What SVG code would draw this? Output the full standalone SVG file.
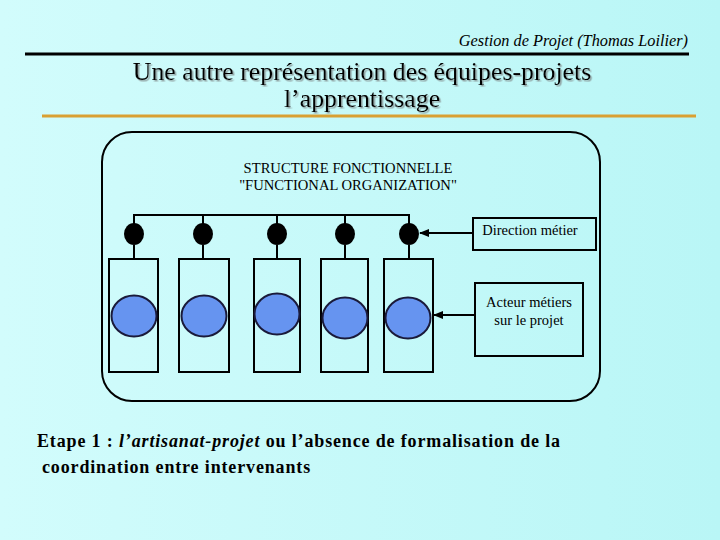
<svg xmlns="http://www.w3.org/2000/svg" width="720" height="540" viewBox="0 0 720 540">
<defs>
<linearGradient id="bg" x1="0" y1="0" x2="1" y2="0">
<stop offset="0" stop-color="#d2fcfc"/>
<stop offset="1" stop-color="#b9f6f6"/>
</linearGradient>
<filter id="shadow" x="-5%" y="-20%" width="110%" height="140%">
<feDropShadow dx="1.5" dy="1.5" stdDeviation="0.3" flood-color="#8a9a9a" flood-opacity="0.9"/>
</filter>
<marker id="arr" markerWidth="10" markerHeight="8" refX="9" refY="4" orient="auto" markerUnits="userSpaceOnUse">
<path d="M0,0 L10,4 L0,8 Z" fill="#000"/>
</marker>
<style>
.serif{font-family:"Liberation Serif","Times New Roman",serif;fill:#000}
.box{fill:none;stroke:#000;stroke-width:2}
.dot{fill:#000}
.blue{fill:#6694f0;stroke:#1a1a3a;stroke-width:2}
.line{stroke:#000;stroke-width:2;fill:none}
.cap{font-size:18px;font-weight:bold;letter-spacing:0.85px}
.lbl{font-size:14.5px}
</style>
</defs>
<rect x="0" y="0" width="720" height="540" fill="url(#bg)"/>

<g id="header">
<text class="serif" x="688" y="46" text-anchor="end" font-size="16.3" font-style="italic">Gestion de Projet (Thomas Loilier)</text>
<line x1="25" y1="54" x2="689" y2="54" stroke="#000" stroke-width="3"/>
</g>

<g id="title" filter="url(#shadow)">
<text class="serif" x="362" y="80" text-anchor="middle" font-size="25.8">Une autre représentation des équipes-projets</text>
<text class="serif" x="362" y="107" text-anchor="middle" font-size="25.8">l’apprentissage</text>
</g>
<line x1="42" y1="116" x2="696" y2="116" stroke="#d9a033" stroke-width="3"/>

<g id="frame">
<rect x="102" y="132" width="498" height="269" rx="30" ry="30" class="box"/>
<text class="serif" x="348" y="173" text-anchor="middle" font-size="14.6">STRUCTURE FONCTIONNELLE</text>
<text class="serif" x="348" y="190" text-anchor="middle" font-size="14.6">"FUNCTIONAL ORGANIZATION"</text>
</g>

<g id="connectors">
<path class="line" d="M134,224 V215 H409 V224 M203,215 V224 M277,215 V224 M345,215 V224"/>
<path class="line" d="M134,245 V259 M203,245 V259 M277,245 V259 M345,245 V259 M409,245 V259"/>
<line class="line" x1="473" y1="233" x2="420" y2="233" marker-end="url(#arr)"/>
<line class="line" x1="475" y1="315" x2="434" y2="315" marker-end="url(#arr)"/>
</g>

<g id="col1">
<ellipse class="dot" cx="134" cy="234" rx="10" ry="11"/>
<rect class="box" x="109" y="259" width="49" height="113"/>
<ellipse class="blue" cx="134" cy="316" rx="22.5" ry="20.5"/>
</g>
<g id="col2">
<ellipse class="dot" cx="203" cy="234" rx="10" ry="11"/>
<rect class="box" x="179" y="259" width="50" height="113"/>
<ellipse class="blue" cx="204" cy="316" rx="22.5" ry="20.5"/>
</g>
<g id="col3">
<ellipse class="dot" cx="277" cy="234" rx="10" ry="11"/>
<rect class="box" x="254" y="259" width="46" height="113"/>
<ellipse class="blue" cx="277" cy="314" rx="22.5" ry="20.5"/>
</g>
<g id="col4">
<ellipse class="dot" cx="345" cy="234" rx="10" ry="11"/>
<rect class="box" x="321" y="259" width="47" height="113"/>
<ellipse class="blue" cx="345" cy="318" rx="22.5" ry="20.5"/>
</g>
<g id="col5">
<ellipse class="dot" cx="409" cy="234" rx="10" ry="11"/>
<rect class="box" x="384" y="259" width="49" height="113"/>
<ellipse class="blue" cx="408" cy="318" rx="22.5" ry="20.5"/>
</g>

<g id="direction">
<rect class="box" x="473" y="218" width="123" height="32"/>
<text class="serif lbl" x="530" y="235" text-anchor="middle">Direction métier</text>
</g>
<g id="acteur">
<rect class="box" x="475" y="283" width="108" height="73"/>
<text class="serif lbl" x="529" y="307" text-anchor="middle">Acteur métiers</text>
<text class="serif lbl" x="529" y="325" text-anchor="middle">sur le projet</text>
</g>

<g id="caption">
<text class="serif cap" x="37" y="447">Etape 1 : <tspan font-style="italic">l’artisanat-projet</tspan> ou l’absence de formalisation de la</text>
<text class="serif cap" x="42" y="473">coordination entre intervenants</text>
</g>
</svg>
